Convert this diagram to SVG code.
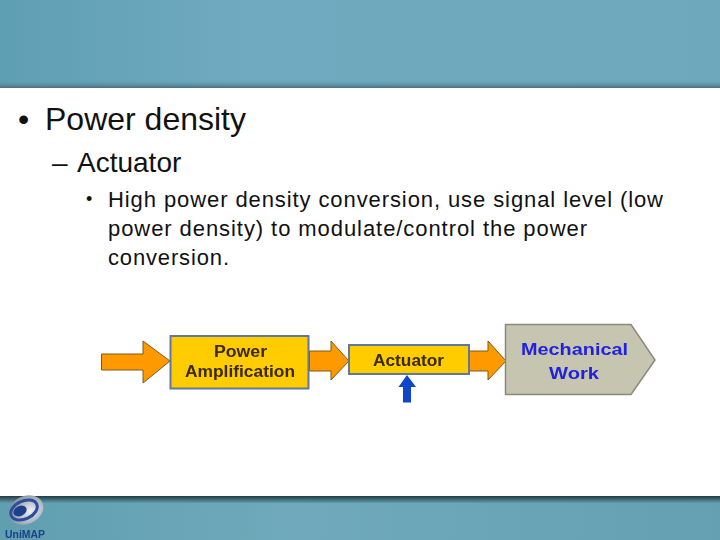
<svg xmlns="http://www.w3.org/2000/svg" width="720" height="540" viewBox="0 0 720 540">
<defs>
<linearGradient id="band" x1="0" y1="0" x2="1" y2="0"><stop offset="0" stop-color="#5f9fb3"/><stop offset="0.35" stop-color="#70aac0"/><stop offset="1" stop-color="#6ea8bc"/></linearGradient>
<linearGradient id="band2" x1="0" y1="0" x2="1" y2="0"><stop offset="0" stop-color="#5f9fb0"/><stop offset="0.4" stop-color="#6fa9bb"/><stop offset="1" stop-color="#659fb2"/></linearGradient>
<linearGradient id="edgeTop" x1="0" y1="0" x2="0" y2="1"><stop offset="0" stop-color="#5f9fb3" stop-opacity="0"/><stop offset="1" stop-color="#4a6f7c"/></linearGradient>
<linearGradient id="edgeBot" x1="0" y1="0" x2="0" y2="1"><stop offset="0" stop-color="#22393f"/><stop offset="1" stop-color="#5f9db0"/></linearGradient>
<radialGradient id="disc" cx="0.6" cy="0.6" r="0.7"><stop offset="0" stop-color="#eef1f4"/><stop offset="1" stop-color="#7d8794"/></radialGradient>
<filter id="soft" x="-5%" y="-5%" width="110%" height="110%"><feGaussianBlur stdDeviation="0.45"/></filter>
</defs>
<style>
text{font-family:"Liberation Sans",Arial,sans-serif;fill:#111}
.b{font-weight:bold;text-anchor:middle;font-size:16px;fill:#3a2a00}
.m{font-weight:bold;text-anchor:middle;font-size:17px;fill:#2222dd}
.arrow{fill:#ff9900;stroke:#7a5a20;stroke-width:1}
.box{fill:#ffcc00;stroke:#5f78a0;stroke-width:2}
</style>
<rect width="720" height="540" fill="#fff"/>
<rect width="720" height="88" fill="url(#band)"/>
<rect y="80" width="720" height="8" fill="url(#edgeTop)"/>
<rect y="496" width="720" height="44" fill="url(#band2)"/>
<rect y="496" width="720" height="7" fill="url(#edgeBot)"/>
<text x="18" y="130" font-size="32">•</text>
<text x="45" y="130" font-size="32">Power density</text>
<text x="52" y="172" font-size="28">–</text>
<text x="77" y="172" font-size="28">Actuator</text>
<text x="86" y="205" font-size="18">•</text>
<text x="108" y="207" font-size="22" textLength="555">High power density conversion, use signal level (low</text>
<text x="108" y="236" font-size="22" textLength="479">power density) to modulate/control the power</text>
<text x="108" y="265" font-size="22" textLength="121">conversion.</text>
<g filter="url(#soft)">
<g id="connectors">
<path class="arrow" d="M101.500 354H143V341L170 361L143 383V370H101.500Z"/>
<path class="arrow" d="M309.500 351H331V341L349 361L331 380V371H309.500Z"/>
<path class="arrow" d="M469 351H488V341L506 361L488 380V371H469Z"/>
<path d="M403 402.500V387H398.500L407 375L416 387H411V402.500Z" fill="#1144cc"/>
</g>
<g id="power-amplification">
<rect class="box" x="170.500" y="336" width="138" height="52.500"/>
<text class="b" x="240.500" y="357" textLength="53" lengthAdjust="spacingAndGlyphs">Power</text>
<text class="b" x="240" y="377" textLength="110" lengthAdjust="spacingAndGlyphs">Amplification</text>
</g>
<g id="actuator">
<rect class="box" x="349" y="345" width="120" height="29"/>
<text class="b" x="408.500" y="366" textLength="71" lengthAdjust="spacingAndGlyphs">Actuator</text>
</g>
<g id="mechanical-work">
<path d="M505.500 324.500H631L655 360L631 394.500H505.500Z" fill="#c5c5b0" stroke="#8a8a7c" stroke-width="1.500"/>
<text class="m" x="574.500" y="355" textLength="107" lengthAdjust="spacingAndGlyphs">Mechanical</text>
<text class="m" x="574" y="379" textLength="50" lengthAdjust="spacingAndGlyphs">Work</text>
</g>
<g id="logo">
<ellipse cx="26" cy="510" rx="18" ry="14" fill="url(#disc)" transform="rotate(-25 26 510)"/>
<ellipse cx="24" cy="510" rx="14" ry="9" fill="none" stroke="#2a4f9e" stroke-width="3" transform="rotate(-25 24 510)"/>
<ellipse cx="20" cy="511" rx="7" ry="5" fill="#1d3f8c" transform="rotate(-25 20 511)"/>
<text x="5" y="538" font-size="11" font-weight="bold" style="fill:#1d3f8c" textLength="40" lengthAdjust="spacingAndGlyphs">UniMAP</text>
</g>
</g>
</svg>
